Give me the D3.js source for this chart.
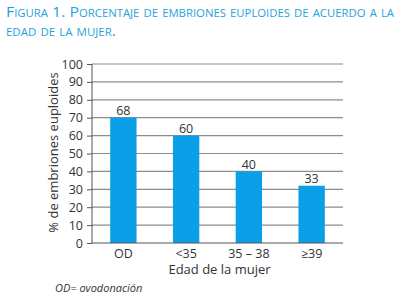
<!DOCTYPE html>
<html>
<head>
<meta charset="utf-8">
<script src="https://cdn.jsdelivr.net/npm/d3@7"></script>
<style>
  body { margin: 0; background: #fff; }
  svg { display: block; font-family: "Open Sans", sans-serif; }
</style>
</head>
<body>
<div id="chart"></div>
<script>
const categories = ['OD', '<35', '35 – 38', '≥39'];
// bar heights as drawn in the figure
const barValues = [70, 60, 40, 32];
// value labels printed above the bars
const valueLabels = ['68', '60', '40', '33'];
const yTicks = [0, 10, 20, 30, 40, 50, 60, 70, 80, 90, 100];

const width = 402, height = 299;
const margin = { top: 64, right: 59, bottom: 56, left: 92 };
const innerWidth = width - margin.left - margin.right;
const innerHeight = height - margin.top - margin.bottom;

const blue = '#0a9fe6';
const textColor = '#333';

const svg = d3.select('#chart')
  .append('svg')
  .attr('width', width)
  .attr('height', height);

// Title (small caps)
const title = svg.append('g')
  .attr('fill', '#1fa3dc')
  .style('font-variant', 'small-caps')
  .style('font-size', '14px');

title.append('text')
  .attr('x', 6)
  .attr('y', 17)
  .attr('textLength', 388)
  .attr('lengthAdjust', 'spacingAndGlyphs')
  .text('Figura 1. Porcentaje de embriones euploides de acuerdo a la');

title.append('text')
  .attr('x', 6)
  .attr('y', 36)
  .attr('textLength', 110)
  .attr('lengthAdjust', 'spacingAndGlyphs')
  .text('edad de la mujer.');

const g = svg.append('g')
  .attr('transform', `translate(${margin.left},${margin.top})`);

// Scales
const xScale = d3.scaleBand()
  .domain(categories)
  .range([0, innerWidth])
  .paddingInner(0.58)
  .paddingOuter(0.29);

const yScale = d3.scaleLinear()
  .domain([0, 100])
  .range([innerHeight, 0]);

// Grid lines
g.selectAll('.grid-h')
  .data(yTicks.filter(d => d > 0))
  .enter()
  .append('line')
  .attr('class', 'grid-h')
  .attr('x1', 0)
  .attr('x2', innerWidth)
  .attr('y1', d => yScale(d))
  .attr('y2', d => yScale(d))
  .attr('stroke', '#8c8c8c')
  .attr('stroke-width', 1.2);

// Bars
g.selectAll('.bar')
  .data(barValues)
  .enter()
  .append('rect')
  .attr('class', 'bar')
  .attr('x', (d, i) => xScale(categories[i]))
  .attr('y', d => yScale(d))
  .attr('width', xScale.bandwidth())
  .attr('height', d => innerHeight - yScale(d))
  .attr('fill', blue);

// Value labels
g.selectAll('.value')
  .data(barValues)
  .enter()
  .append('text')
  .attr('class', 'value')
  .attr('x', (d, i) => xScale(categories[i]) + xScale.bandwidth() / 2)
  .attr('y', d => yScale(d) - 2.5)
  .attr('text-anchor', 'middle')
  .attr('fill', textColor)
  .style('font-size', '12.5px')
  .text((d, i) => valueLabels[i]);

// Y Axis
const yAxis = d3.axisLeft(yScale)
  .tickValues(yTicks)
  .tickSize(5)
  .tickPadding(4);

g.append('g')
  .call(yAxis)
  .call(a => a.selectAll('text').attr('fill', textColor).style('font-size', '12.5px').style('font-family', '"Open Sans", sans-serif'))
  .call(a => a.selectAll('line').attr('stroke', '#555'))
  .call(a => a.select('.domain').attr('stroke', '#555').attr('d', `M0,0V${innerHeight}`));

// X Axis
g.append('line')
  .attr('x1', 0)
  .attr('x2', innerWidth)
  .attr('y1', innerHeight)
  .attr('y2', innerHeight)
  .attr('stroke', '#555');

g.selectAll('.cat')
  .data(categories)
  .enter()
  .append('text')
  .attr('class', 'cat')
  .attr('x', d => xScale(d) + xScale.bandwidth() / 2)
  .attr('y', innerHeight + 14.5)
  .attr('text-anchor', 'middle')
  .attr('fill', textColor)
  .style('font-size', '12.5px')
  .text(d => d);

// X Axis Label
g.append('text')
  .attr('x', innerWidth / 2 + 2)
  .attr('y', innerHeight + 30.5)
  .attr('text-anchor', 'middle')
  .attr('fill', textColor)
  .style('font-size', '13px')
  .text('Edad de la mujer');

// Y Axis Label
g.append('text')
  .attr('transform', 'rotate(-90)')
  .attr('x', -(yScale(0) + yScale(100)) / 2 + 1)
  .attr('y', -34)
  .attr('text-anchor', 'middle')
  .attr('fill', textColor)
  .style('font-size', '13px')
  .text('% de embriones euploides');

// Footnote
svg.append('text')
  .attr('x', 55)
  .attr('y', 292)
  .attr('fill', textColor)
  .style('font-size', '11px')
  .style('font-style', 'italic')
  .text('OD= ovodonación');
</script>
</body>
</html>
